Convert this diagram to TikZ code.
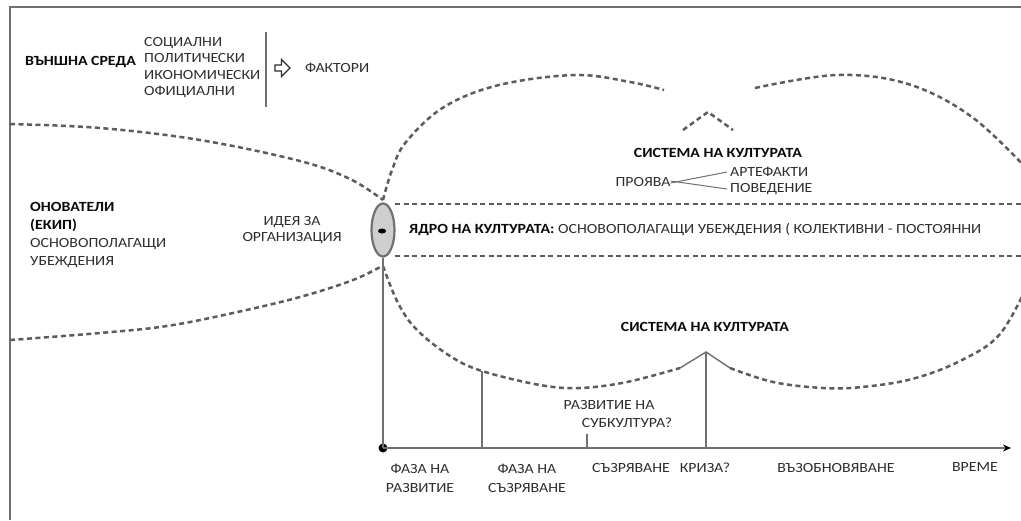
\documentclass[tikz,border=0pt]{standalone}
\usepackage{fontspec}
\setmainfont{Carlito}[FakeStretch=1.13]
\usetikzlibrary{shapes.geometric,shapes.arrows,arrows.meta}
\definecolor{txt}{HTML}{2E2E2E}
\definecolor{txtb}{HTML}{0A0A0A}
\definecolor{dash}{HTML}{5C5C5C}
\definecolor{solidc}{HTML}{707070}
\begin{document}
\begin{tikzpicture}[x=1pt,y=-1pt,
  lbl/.style={inner sep=0pt,text=txt,font=\fontsize{14}{17}\selectfont},
  blbl/.style={lbl,text=txtb,font=\fontsize{14}{17}\selectfont\bfseries},
  dcurve/.style={draw=dash,line width=2.5pt,dash pattern=on 5pt off 3.5pt},
  sline/.style={draw=solidc,line width=1.4pt},
  frame/.style={draw=solidc,line width=2.6pt}]
\useasboundingbox (0,0) rectangle (1021,520);
\clip (0,0) rectangle (1021,520);
\fill[white] (0,0) rectangle (1021,520);
% frame
\coordinate (fbl) at (10,520);
\coordinate (ftl) at (10,7);
\coordinate (ftr) at (1021,7);
\draw[frame] (fbl) -- (ftl) -- (ftr);

% external environment
\node[blbl,anchor=west] (ext) at (25,62) {ВЪНШНА СРЕДА};
\node[lbl,anchor=west,align=left,font=\fontsize{14}{16.5}\selectfont] (fac) at (144,67.5)
  {СОЦИАЛНИ\\ПОЛИТИЧЕСКИ\\ИКОНОМИЧЕСКИ\\ОФИЦИАЛНИ};
\coordinate (bart) at (266,32);
\coordinate (barb) at (266,107);
\draw[sline] (bart) -- (barb);
\node[single arrow,draw=txt,fill=white,line width=1.2pt,minimum height=15pt,minimum width=17pt,
  single arrow head extend=3pt,inner sep=1pt] (arr) at (281,68) {};
\node[lbl,anchor=west] (fk) at (305,68) {ФАКТОРИ};

% founders
\node[lbl,anchor=west,align=left,font=\fontsize{14}{18}\selectfont] (fnd) at (30,235)
  {\textbf{\color{txtb}ОНОВАТЕЛИ}\\\textbf{\color{txtb}(ЕКИП)}\\ОСНОВОПОЛАГАЩИ\\УБЕЖДЕНИЯ};
\node[lbl,align=center,font=\fontsize{14}{16}\selectfont] (idea) at (292,230) {ИДЕЯ ЗА\\ОРГАНИЗАЦИЯ};

% left lens curves
\draw[dcurve] plot[smooth,tension=0.6] coordinates {(10,124) (100,128) (200,140) (300,161) (350,179) (383,200)};
\draw[dcurve] plot[smooth,tension=0.6] coordinates {(10,340) (100,333) (167,326) (233,313) (300,297) (353,280) (382,266)};

% right culture shape
\draw[dcurve] plot[smooth,tension=0.6] coordinates {(383,200) (392,170) (406,142) (444,107) (499,85) (575,75) (630,82) (664,90)};
\draw[dcurve] plot[smooth,tension=0.6] coordinates {(755,88) (837,75) (908,84) (972,117) (1030,172)};
\draw[dcurve] (683,130) -- (708,112) -- (733,130);
\draw[dcurve] plot[smooth,tension=0.6] coordinates {(383,266) (398,303) (417,330) (450,356) (482,371) (540,385) (580,388) (627,382) (680,368)};
\coordinate (pk) at (706,352);
\coordinate (pkl) at (680,368);
\coordinate (pkr) at (730,368);
\draw[sline] (pkl) -- (pk) -- (pkr);
\draw[dcurve] plot[smooth,tension=0.6] coordinates {(730,368) (773,382) (823,388) (862,387) (912,379) (960,361) (1000,334) (1030,280)};

% core band
\coordinate (b1l) at (395,204);
\coordinate (b1r) at (1021,204);
\coordinate (b2l) at (395,256);
\coordinate (b2r) at (1021,256);
\draw[dcurve] (b1l) -- (b1r);
\draw[dcurve] (b2l) -- (b2r);
\node[ellipse,draw=solidc,fill=gray!38,line width=2.2pt,minimum width=23pt,minimum height=53pt,inner sep=0pt] (core) at (383,230) {};
\node[ellipse,fill=black,minimum width=8pt,minimum height=5pt,inner sep=0pt] (cdot) at (382,231) {};
\node[lbl,anchor=west] (coretxt) at (409,229) {\textbf{\color{txtb}ЯДРО НА КУЛТУРАТА:} ОСНОВОПОЛАГАЩИ УБЕЖДЕНИЯ ( КОЛЕКТИВНИ - ПОСТОЯННИ};

% culture system upper
\node[blbl] (sys1) at (718,153) {СИСТЕМА НА КУЛТУРАТА};
\node[lbl] (pr) at (643,182) {ПРОЯВА};
\node[lbl,anchor=west] (art) at (730,172) {АРТЕФАКТИ};
\node[lbl,anchor=west] (beh) at (730,189) {ПОВЕДЕНИЕ};
\draw[draw=solidc,line width=1pt] ([yshift=-1pt]pr.east) -- ([xshift=-3pt]art.west);
\draw[draw=solidc,line width=1pt] ([yshift=1pt]pr.east) -- ([xshift=-3pt]beh.west);

% lower system
\node[blbl] (sys2) at (705,327) {СИСТЕМА НА КУЛТУРАТА};
\node[lbl] (sub1) at (609,405) {РАЗВИТИЕ НА};
\node[lbl] (sub2) at (627,423) {СУБКУЛТУРА?};

% timeline
\node[circle,fill=black,minimum size=9pt,inner sep=0pt] (t0) at (383,448) {};
\coordinate (tend) at (1011,448);
\draw[draw=solidc,line width=2.2pt,-{Stealth[length=8pt,width=7pt,black]}] (t0.center) -- (tend);
\draw[sline] (core.south) -- (t0.center);
\coordinate (v1t) at (482,371);
\coordinate (v1b) at (482,448);
\draw[sline] (v1t) -- (v1b);
\coordinate (v2b) at (706,448);
\draw[sline] (pk) -- (v2b);
\coordinate (tkt) at (587,434);
\coordinate (tkb) at (587,448);
\draw[sline] (tkt) -- (tkb);

\node[lbl,align=center,font=\fontsize{14}{19}\selectfont] (ph1) at (420,478) {ФАЗА НА\\РАЗВИТИЕ};
\node[lbl,align=center,font=\fontsize{14}{19}\selectfont] (ph2) at (527,478) {ФАЗА НА\\СЪЗРЯВАНЕ};
\node[lbl] (ph3) at (631,468) {СЪЗРЯВАНЕ};
\node[lbl] (ph4) at (705,468) {КРИЗА?};
\node[lbl] (ph5) at (836,468) {ВЪЗОБНОВЯВАНЕ};
\node[lbl] (ph6) at (975,467) {ВРЕМЕ};
\end{tikzpicture}
\end{document}
